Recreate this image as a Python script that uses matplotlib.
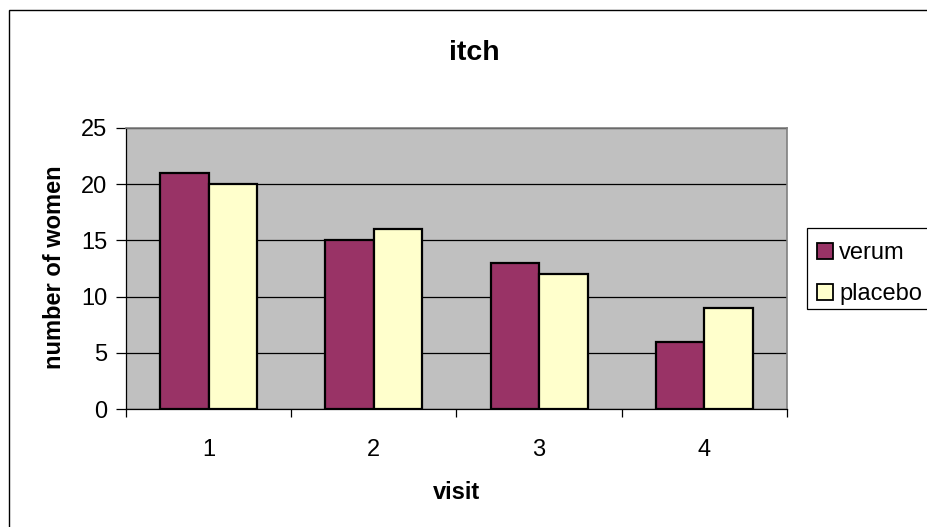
import matplotlib
matplotlib.use("Agg")
import matplotlib.pyplot as plt
from matplotlib.patches import Rectangle
import numpy as np

plt.rcParams['font.family'] = ['Liberation Sans', 'DejaVu Sans']

visits = ["1", "2", "3", "4"]
verum = [21, 15, 13, 6]
placebo = [20, 16, 12, 9]
series_names = ["verum", "placebo"]
series_colors = ["#993366", "#ffffcc"]
y_ticks = [0, 5, 10, 15, 20, 25]

W, H = 928, 527
fig = plt.figure(figsize=(W / 100, H / 100), dpi=100)
fig.patch.set_facecolor("white")


def fx(px):
    return px / W


def fy(py):
    return 1 - py / H


# outer chart frame (runs off the right and bottom edges)
fig.patches.append(Rectangle((fx(9), fy(535)), fx(930), 525 / H,
                             transform=fig.transFigure, fill=False,
                             edgecolor="black", linewidth=1.0))

ax = fig.add_axes([fx(126), fy(409), (787 - 126) / W, (409 - 128) / H])
ax.set_facecolor("#c0c0c0")

x = np.arange(len(visits))
bw = 0.293
ax.bar(x - bw / 2, verum, bw, color=series_colors[0], edgecolor="black",
       linewidth=1.6, zorder=3)
ax.bar(x + bw / 2, placebo, bw, color=series_colors[1], edgecolor="black",
       linewidth=1.6, zorder=3)

ax.set_xlim(-0.5, len(visits) - 0.5)
ax.set_ylim(0, 25)
ax.set_yticks(y_ticks)
ax.set_yticklabels([str(t) for t in y_ticks], fontsize=17)
ax.yaxis.grid(True, color="black", linewidth=0.9, zorder=1)
ax.set_axisbelow(True)

# category labels centred, tick marks on category boundaries
ax.set_xticks(np.arange(-0.5, len(visits) + 0.5, 1.0))
ax.set_xticklabels([])
ax.set_xticks(x, minor=True)
ax.set_xticklabels(visits, minor=True, fontsize=17)
ax.tick_params(axis="x", which="minor", length=0, pad=21.5)
ax.tick_params(axis="x", which="major", length=6, width=0.9, direction="out")
ax.tick_params(axis="y", length=7, width=0.9, direction="out", pad=6.5)

for side in ("top", "right"):
    ax.spines[side].set_color("#808080")
    ax.spines[side].set_linewidth(1.2)
for side in ("left", "bottom"):
    ax.spines[side].set_color("black")
    ax.spines[side].set_linewidth(0.9)

fig.text(fx(474), fy(60), "itch", ha="center", va="baseline",
         fontsize=20.5, fontweight="bold")
fig.text(fx(457), fy(499), "visit", ha="center", va="baseline",
         fontsize=17, fontweight="bold")
fig.text(fx(55), fy(267), "number of women", ha="center", va="center",
         rotation=90, fontsize=17, fontweight="bold")

# legend box with colour keys
fig.patches.append(Rectangle((fx(807), fy(309)), fx(140), 81 / H,
                             transform=fig.transFigure, facecolor="white",
                             edgecolor="black", linewidth=0.9))
key_tops = [243, 284]
baselines = [259, 300]
for name, col, top, base in zip(series_names, series_colors, key_tops, baselines):
    fig.patches.append(Rectangle((fx(817), fy(top + 16)), 16 / W, 16 / H,
                                 transform=fig.transFigure, facecolor=col,
                                 edgecolor="black", linewidth=1.3))
    fig.text(fx(839), fy(base), name, ha="left", va="baseline", fontsize=17)

fig.savefig("out.png", dpi=100, facecolor="white")
